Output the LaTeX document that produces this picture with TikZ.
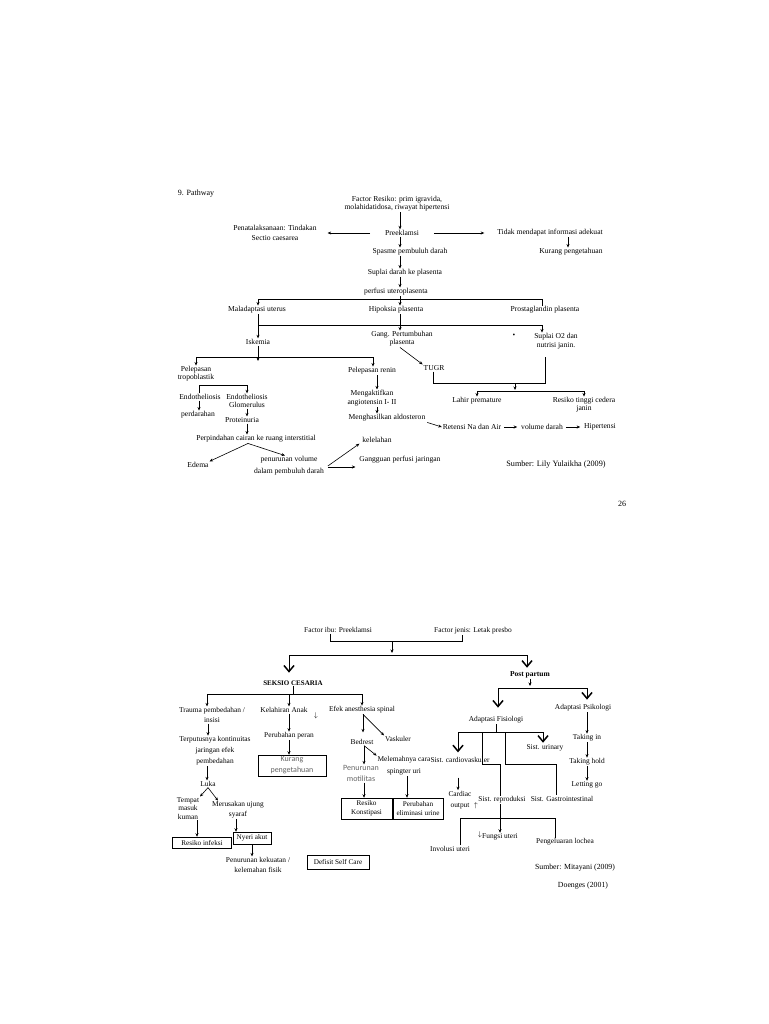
\documentclass[tikz,border=0pt]{standalone}
\usepackage{fontspec}
\setmainfont{Liberation Serif}
\newfontfamily\calib{Carlito}
\usetikzlibrary{arrows.meta}
\begin{document}
\begin{tikzpicture}[x=1pt,y=-1pt,
  txt/.style={font=\fontsize{7.6}{#1}\selectfont, inner sep=0.8pt, align=center},
  txt/.default=8,
  btx/.style={font=\fontsize{7.4}{#1}\selectfont, inner sep=0.8pt, align=center},
  btx/.default=8,
  bx/.style={draw, line width=0.5pt, font=\fontsize{7.2}{9}\selectfont, inner sep=1pt, align=center},
  gs/.style={font=\calib\fontsize{8}{11}\selectfont, text=black!60, inner sep=0.8pt, align=center},
  ln/.style={line width=0.6pt},
  arr/.style={ln, -{Stealth[length=3.5pt,width=3pt]}},
  bigv/.style={line width=0.8pt, -{Straight Barb[length=6pt,width=10pt,line width=1.5pt]}}
]
\fill[white] (0,0) rectangle (768,1024);
\useasboundingbox (0,0) rectangle (768,1024);

% ================= TOP PATHWAY =================
\node[txt, font=\fontsize{8}{9}\selectfont] (p9) at (196,194) {9. Pathway};
\node[txt] (fr) at (397,204) {Factor Resiko: prim igravida,\\molahidatidosa, riwayat hipertensi};
\node[txt] (pe) at (402,233) {Preeklamsi};
\node[txt=10] (pt) at (275,233) {Penatalaksanaan: Tindakan\\Sectio caesarea};
\node[txt] (ti) at (550,233) {Tidak mendapat informasi adekuat};
\node[txt] (kp) at (571,252) {Kurang pengetahuan};
\node[txt] (sp) at (410,252) {Spasme pembuluh darah};
\node[txt] (sd) at (405,273) {Suplai darah ke plasenta};
\node[txt] (pu) at (396,292) {perfusi uteroplasenta};
\node[txt] (mu) at (257,310) {Maladaptasi uterus};
\node[txt] (hp) at (396,310) {Hipoksia plasenta};
\node[txt] (pg) at (545,310) {Prostaglandin plasenta};
\node[txt] (is) at (258,342) {Iskemia};
\node[txt] (gp) at (402,339) {Gang. Pertumbuhan\\plasenta};
\node[txt] (dot) at (514,336) {\textbullet};
\node[txt=9] (so) at (556,341.5) {Suplai O2 dan\\nutrisi janin.};
\node[txt] (tg) at (434,368) {TUGR};
\node[txt] (ptr) at (196,374) {Pelepasan\\tropoblastik};
\node[txt] (pr) at (372,371) {Pelepasan renin};
\node[txt] (en) at (200,397) {Endotheliosis};
\node[txt] (eg) at (247,401) {Endotheliosis\\Glomerulus};
\node[txt] (pd) at (198,415) {perdarahan};
\node[txt] (prt) at (242,420) {Proteinuria};
\node[txt] (pc) at (256,439) {Perpindahan cairan ke ruang interstitial};
\node[txt] (ed) at (198,465) {Edema};
\node[txt=12] (pv) at (289,466) {penurunan volume\\dalam pembuluh darah};
\node[txt=9] (ma) at (372,398.5) {Mengaktifkan\\angiotensin I- II};
\node[txt] (ma2) at (387,418) {Menghasilkan aldosteron};
\node[txt] (kl) at (377,440) {kelelahan};
\node[txt] (gg) at (400,460) {Gangguan perfusi jaringan};
\node[txt] (lp) at (477,401) {Lahir premature};
\node[txt] (rt) at (584,405) {Resiko tinggi cedera\\janin};
\node[txt] (rn) at (472,427) {Retensi Na dan Air};
\node[txt] (vd) at (542,427) {volume darah};
\node[txt] (hy) at (600,427) {Hipertensi};
\node[txt, font=\fontsize{8.2}{9}\selectfont] (sb) at (556,465) {Sumber: Lily Yulaikha (2009)};
\node[txt, font=\fontsize{8}{9}\selectfont] (n26) at (622,504) {26};

\draw[arr] (fr.south -| 400,0) -- (pe.north -| 400,0);
\draw[arr] ([xshift=-14pt]pe.west) -- ([xshift=10pt]pt.east);
\draw[arr] ([xshift=14pt]pe.east) -- ([xshift=-12pt]ti.west);
\draw[arr] (ti.south -| 568,0) -- (kp.north -| 568,0);
\draw[arr] (pe.south -| 400,0) -- (sp.north -| 400,0);
\draw[arr] (sp.south -| 400,0) -- (sd.north -| 400,0);
\draw[arr] (sd.south -| 400,0) -- (pu.north -| 400,0);
\draw[arr] (pu.south -| 400,0) -- (hp.north -| 400,0);
\draw[arr] (pg.north -| 542,0) -- (542,299) -- (258,299) -- (mu.north -| 258,0);
\draw[arr] (mu.south -| 258,0) -- (is.north -| 258,0);
\draw[arr] (258,325) -- (542,325) -- (so.north -| 542,0);
\draw[arr] (hp.south -| 400,0) -- (gp.north -| 400,0);
\draw[arr] ([xshift=-2pt]gp.south) -- (tg.north west);
\draw[ln, shorten >=7pt] (tg.south -| 433,0) -- (433,383) -- (545,383) -- (so.south -| 545,0);
\draw[arr] (515,383) -- (515,390);
\draw[arr] (515,391) -| (lp.north);
\draw[arr] (515,391) -| (rt.north);
\draw[arr] (is.south -| 258,0) -- (258,361);
\draw[ln] (196,357) -- (373,357);
\draw[arr] (196,357) -- (ptr.north -| 196,0);
\draw[arr] (373,357) -- (pr.north -| 373,0);
\draw[arr] (en.north -| 199,0) -- (199,385) -- (247,385) -- (eg.north -| 247,0);
\draw[arr] (en.south -| 199,0) -- (pd.north -| 199,0);
\draw[arr] (eg.south -| 247,0) -- (prt.north -| 247,0);
\draw[arr] (prt.south -| 247,0) -- (pc.north -| 247,0);
\draw[arr] (pc.south -| 248,0) -- (ed.north east);
\draw[arr] (pc.south -| 248,0) -- (pv.north -| 285,0);
\draw[arr] ([xshift=3pt]pv.east) -- ([xshift=-2pt]kl.south west);
\draw[arr] ([xshift=3pt,yshift=-1pt]pv.east) -- ([xshift=-3pt,yshift=-7pt]gg.west);
\draw[arr] (pr.south -| 377,0) -- (ma.north -| 377,0);
\draw[arr] (ma.south -| 377,0) -- (ma2.north -| 377,0);
\draw[arr] ([xshift=1pt]ma2.south east) -- (rn.west);
\draw[arr] ([xshift=2pt]rn.east) -- ([xshift=-3pt]vd.west);
\draw[arr] ([xshift=2pt]vd.east) -- ([xshift=-3pt]hy.west);

% ================= BOTTOM PATHWAY =================
\node[btx] (fi) at (338,630) {Factor ibu: Preeklamsi};
\node[btx] (fj) at (473,631) {Factor jenis: Letak presbo};
\node[btx, font=\bfseries\fontsize{7}{8}\selectfont] (sc) at (293,683) {SEKSIO CESARIA};
\node[btx, font=\bfseries\fontsize{7.5}{8}\selectfont] (ppn) at (530,675) {Post partum};
\node[btx] (af) at (496,720) {Adaptasi Fisiologi};
\node[btx] (ap) at (583,708) {Adaptasi Psikologi};
\node[btx=10] (tr) at (212,715) {Trauma pembedahan /\\insisi};
\node[btx] (ka) at (284,710) {Kelahiran Anak};
\node[btx] (kx) at (316,716) {$\downarrow$};
\node[btx] (ea) at (362,710) {Efek anesthesia spinal};
\node[btx=11] (tk) at (215,751) {Terputusnya kontinuitas\\jaringan efek\\pembedahan};
\node[btx] (lk) at (208,784) {Luka};
\node[btx=8.5] (tm) at (188,808.5) {Tempat\\masuk\\kuman};
\node[btx=10] (mr) at (238,810) {Merusakan ujung\\syaraf};
\node[bx, minimum width=59pt, minimum height=11pt] (ri) at (202,842.5) {Resiko infeksi};
\node[bx, minimum width=38pt, minimum height=12pt] (na) at (252,838) {Nyeri akut};
\node[btx=10] (pk) at (258,865) {Penurunan kekuatan /\\kelemahan fisik};
\node[bx, minimum width=62pt, minimum height=14pt] (ds) at (338,862) {Defisit Self Care};
\node[btx] (pp2) at (289,736) {Perubahan peran};
\node[bx, gs, minimum width=68pt, minimum height=21pt] (kpb) at (292,765.5) {Kurang\\pengetahuan};
\node[btx] (bd) at (362,742) {Bedrest};
\node[btx] (vk) at (398,739) {Vaskuler};
\node[gs] (pm) at (361,773.5) {Penurunan\\motilitas};
\node[btx=12] (mc) at (404,766) {Melemahnya cara\\spingter uri};
\node[bx, minimum width=51pt, minimum height=21pt] (rk) at (366.5,808.5) {Resiko\\Konstipasi};
\node[bx, minimum width=50pt, minimum height=21pt] (pe2) at (418,808.5) {Perubahan\\eliminasi urine};
\node[btx] (scv) at (460,760) {Sist. cardiovaskuler};
\node[btx] (su) at (545,748) {Sist. urinary};
\node[btx] (sr) at (502,800) {Sist. reproduksi};
\node[btx] (sg) at (562,799) {Sist. Gastrointestinal};
\node[btx=11] (co) at (460,800) {Cardiac\\output};
\node[btx] (coa) at (476,806) {$\uparrow$};
\node[btx] (fu) at (500,837) {Fungsi uteri};
\node[btx] (fua) at (480,835) {$\downarrow$};
\node[btx] (iu) at (450,849) {Involusi uteri};
\node[btx] (pl) at (565,842) {Pengeluaran lochea};
\node[btx] (tin) at (587,738) {Taking in};
\node[btx] (th) at (587,762) {Taking hold};
\node[btx] (lg) at (587,785) {Letting go};
\node[btx, font=\fontsize{7.8}{9}\selectfont] (sm) at (575,868) {Sumber: Mitayani (2009)};
\node[btx, font=\fontsize{7.8}{9}\selectfont] (dg) at (583,886) {Doenges (2001)};

\draw[ln] (fi.south -| 330,0) -- (330,641) -- (462,641) -- (fj.south -| 462,0);
\draw[arr] (392,641) -- (392,653);
\draw[bigv, shorten >=7pt] (392,655) -| (sc.north -| 289,0);
\draw[bigv, shorten >=3pt] (392,655) -| (ppn.north -| 527,0);
\draw[arr] (ppn.south -| 530,0) -- (530,686);
\draw[bigv, shorten >=8pt] (530,688) -| (af.north -| 498,0);
\draw[bigv, shorten >=4pt] (530,688) -| (ap.north -| 587,0);

\draw[ln] (sc.south -| 293,0) -- (293,694);
\draw[ln] (207,694) -- (362,694);
\draw[arr] (207,694) -- (tr.north -| 207,0);
\draw[arr] (289,694) -- (ka.north -| 289,0);
\draw[arr] (362,694) -- (ea.north -| 362,0);
\draw[arr] (tr.south -| 208,0) -- (tk.north -| 208,0);
\draw[arr] (tk.south -| 207,0) -- (lk.north -| 207,0);
\draw[arr] (lk.south) -- ([xshift=12pt]tm.north);
\draw[arr] (lk.south) -- ([xshift=-20pt]mr.north);
\draw[arr] (tm.south -| 197,0) -- (ri.north -| 197,0);
\draw[arr] (mr.south -| 236,0) -- (na.north -| 236,0);
\draw[arr] (na.south -| 252,0) -- (pk.north -| 252,0);
\draw[arr] (ka.south -| 289,0) -- (pp2.north -| 289,0);
\draw[arr] (pp2.south -| 289,0) -- (kpb.north -| 289,0);
\draw[arr, shorten >=6pt] (ea.south -| 363,0) -- (bd.north -| 363,0);
\draw[arr] (ea.south -| 363,0) -- (vk.north west);
\draw[arr] (bd.south -| 364,0) -- (pm.north -| 364,0);
\draw[arr] (bd.south -| 364,0) -- (mc.north west);
\draw[arr] (pm.south -| 364,0) -- (rk.north -| 364,0);
\draw[arr] (mc.south -| 407,0) -- (pe2.north -| 407,0);

\draw[ln] (af.south -| 496,0) -- (496,732);
\draw[ln] (458,732) -- (543,732);
\draw[bigv, shorten >=4pt] (458,732) -- (scv.north -| 458,0);
\draw[bigv, shorten >=1pt] (543,732) -- (su.north -| 543,0);
\draw[ln] (482,732) -- (482,764) -- (500,764) -- (sr.north -| 500,0);
\draw[ln] (505,732) -- (505,764) -- (556,764) -- (sg.north -| 556,0);
\draw[arr, shorten <=14pt] (scv.south -| 458,0) -- (co.north -| 458,0);
\draw[arr] (sr.south -| 500,0) -- (fu.north -| 500,0);
\draw[ln] (iu.north -| 460,0) -- (460,818) -- (555,818) -- (pl.north -| 555,0);
\draw[arr] (ap.south -| 587,0) -- (tin.north -| 587,0);
\draw[arr] (tin.south -| 587,0) -- (th.north -| 587,0);
\draw[arr] (th.south -| 587,0) -- (lg.north -| 587,0);
\end{tikzpicture}
\end{document}
